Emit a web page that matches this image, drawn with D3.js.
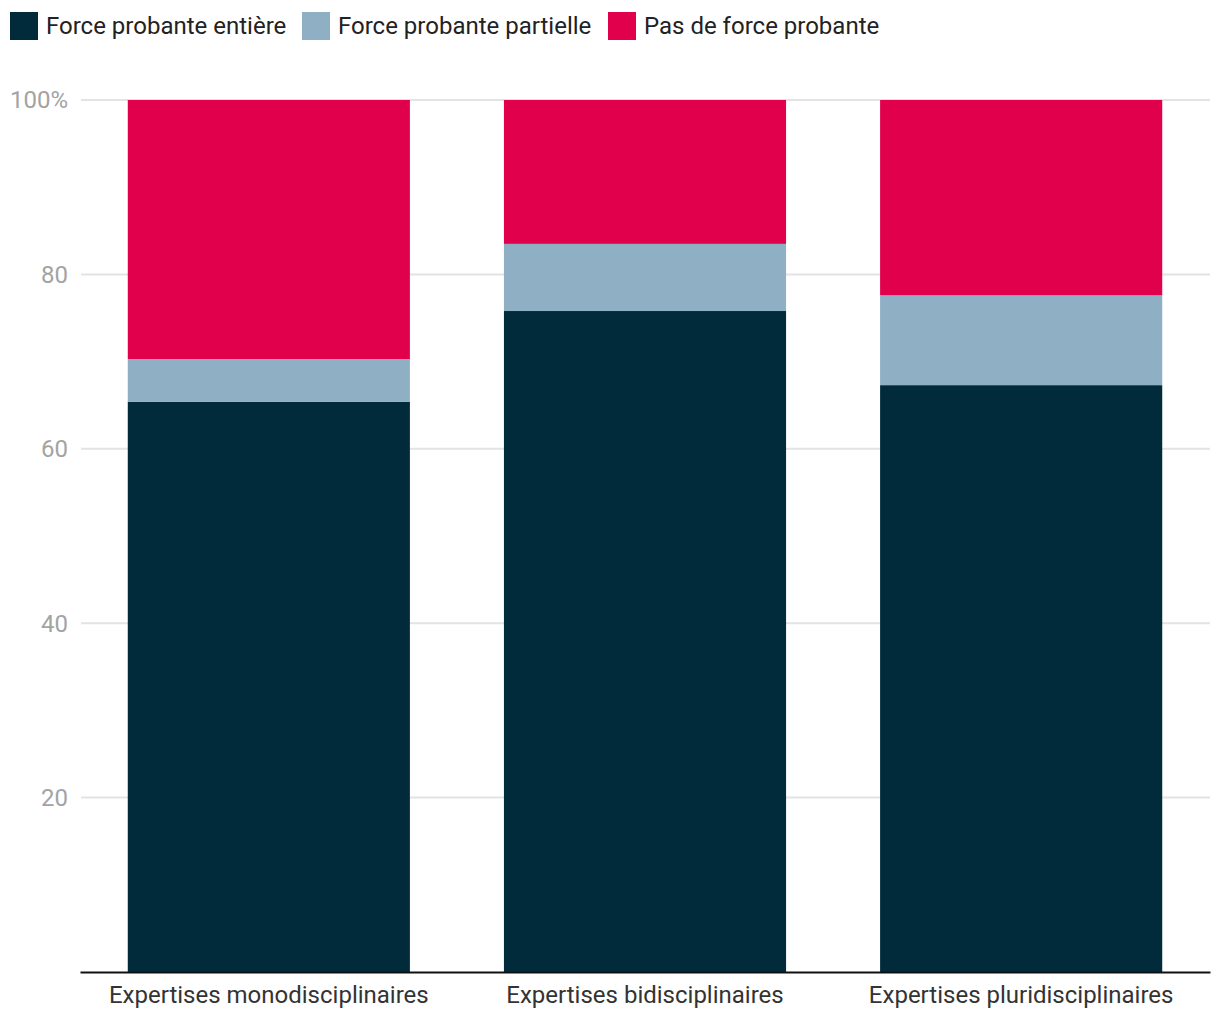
<!DOCTYPE html>
<html><head><meta charset="utf-8">
<script src="https://cdn.jsdelivr.net/npm/d3@7"></script>
<style>body{margin:0;background:#fff;}svg{display:block;font-family:Roboto,sans-serif;}</style>
</head><body>
<svg id="chart" width="1220" height="1020"></svg>
<script>
const categories = ["Expertises monodisciplinaires","Expertises bidisciplinaires","Expertises pluridisciplinaires"];
const seriesNames = ["Force probante entière","Force probante partielle","Pas de force probante"];
const entiere = [65.4, 75.8, 67.3];
const partielle = [4.9, 7.7, 10.3];
const pas = [29.7, 16.5, 22.4];
const colors = ["#012a3b","#8eafc4","#e1004c"];
const yTicks = [20,40,60,80,100];

const svg = d3.select("#chart");
const x = d3.scaleBand().domain(categories).range([80,1210]).paddingInner(0.25).paddingOuter(0.127);
const y = d3.scaleLinear().domain([0,100]).range([972,100]);

const rows = categories.map((c,i)=>({cat:c, s0:entiere[i], s1:partielle[i], s2:pas[i]}));
const stack = d3.stack().keys(["s0","s1","s2"])(rows);

// grid
svg.append("g").selectAll("line").data(yTicks).join("line")
  .attr("x1",81).attr("x2",1210).attr("y1",d=>y(d)).attr("y2",d=>y(d))
  .attr("stroke","#e3e3e3").attr("stroke-width",2);

// tick labels
svg.append("g").selectAll("text").data(yTicks).join("text")
  .attr("x",68).attr("y",d=>y(d)).attr("dy","0.35em").attr("text-anchor","end")
  .attr("fill","#a3a3a3").attr("font-size",24)
  .text(d=>d===100?"100%":d);

// bars
svg.append("g").selectAll("g").data(stack).join("g").attr("fill",(d,i)=>colors[i])
  .selectAll("rect").data(d=>d).join("rect")
  .attr("x",d=>x(d.data.cat)).attr("width",x.bandwidth())
  .attr("y",d=>y(d[1])).attr("height",d=>y(d[0])-y(d[1]));

// x axis
const xa = svg.append("g").attr("transform","translate(0,972)").call(d3.axisBottom(x).tickSize(0).tickPadding(14));
xa.select(".domain").attr("stroke","#111").attr("stroke-width",2);
xa.selectAll("text").attr("font-size",24).attr("fill","#333").attr("font-family","Roboto,sans-serif");

// legend
const legX = [10,302,608];
const leg = svg.append("g").selectAll("g").data(seriesNames).join("g")
  .attr("transform",(d,i)=>`translate(${legX[i]},12)`);
leg.append("rect").attr("width",28).attr("height",28).attr("fill",(d,i)=>colors[i]);
leg.append("text").attr("x",36).attr("y",14).attr("dy","0.35em").attr("font-size",24).attr("fill","#222").text(d=>d);
</script>
</body></html>
